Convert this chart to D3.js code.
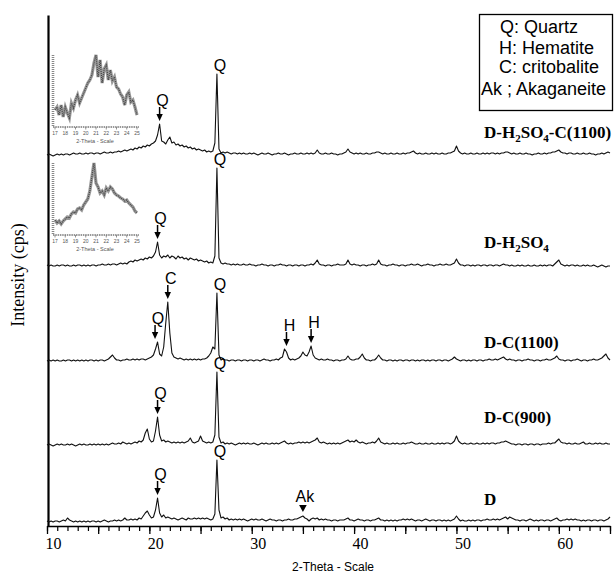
<!DOCTYPE html>
<html><head><meta charset="utf-8">
<script src="https://cdn.jsdelivr.net/npm/d3@7"></script>
<style>html,body{margin:0;padding:0;background:#fff;} svg{display:block;}</style>
</head><body>
<svg id="chart" width="616" height="573"></svg>
<script>
// ---------------- DATA ----------------
const thetaStart = 10, thetaStep = 0.2;          // 2-theta grid of the scans
const seriesNames = ["D", "D-C(900)", "D-C(1100)", "D-H2SO4", "D-H2SO4-C(1100)"];
const seriesOffsets = [4, 81, 165, 260, 371];     // stacking offsets (cps)

const intensityD = [
 1,0,1,0,1, 1,0,1,2,1, 4,2,1,0,1, 0,1,0,1,0, 1,0,1,1,0,
 1,0,1,2,1, 0,1,1,2,1, 2,1,2,4,2, 2,3,2,3,2, 4,3,6,9,11,
 7,4,5,12,24, 9,5,7,4,5, 4,3,4,3,2, 3,4,3,2,4, 3,3,4,3,4,
 3,4,3,4,3, 2,3,8,62,12, 4,5,3,4,2, 3,2,3,2,3, 2,3,2,1,2,
 3,2,3,2,2, 3,2,1,2,3, 2,2,1,2,2, 1,2,2,3,2, 2,3,3,4,5,
 6,4,3,1,3, 4,3,4,2,3, 2,3,2,2,1, 2,2,1,2,2, 2,3,4,2,2,
 1,2,3,2,2, 1,2,2,1,2, 2,3,4,2,2, 1,2,1,2,1, 2,1,2,2,3,
 2,3,2,3,2, 1,2,2,1,2, 3,2,1,2,2, 1,2,2,1,2, 1,2,1,2,3,
 6,3,1,2,1, 1,2,1,2,1, 2,2,1,2,2, 3,2,2,3,2, 3,2,3,4,5,
 3,5,4,3,2, 2,1,2,2,1, 2,3,2,1,2, 1,2,2,1,2, 2,1,2,3,4,
 2,1,2,2,3, 2,3,2,3,2, 2,1,2,1,2, 2,1,2,2,1, 2,2,1,2,3,
 5];
const intensityDC900 = [
 0,1,0,-1,0, 1,0,1,0,0, 1,0,1,0,-1, 0,1,0,1,0, 0,1,0,1,0,
 1,0,1,0,1, 0,1,2,1,1, 2,1,3,2,1, 2,1,2,3,2, 4,3,5,12,16,
 6,3,4,14,28, 10,4,5,3,4, 3,2,3,2,3, 2,3,2,3,4, 7,3,2,3,4,
 9,4,3,2,3, 2,3,10,73,8, 2,3,1,2,1, 2,1,0,1,2, 1,2,1,2,1,
 1,2,1,0,1, 2,1,2,1,1, 2,1,2,1,2, 3,4,2,1,2, 1,2,2,3,2,
 3,2,3,2,3, 4,5,7,3,2, 3,2,1,2,1, 2,1,2,1,2, 3,4,5,3,4,
 3,5,3,2,3, 2,1,2,2,3, 2,4,7,3,2, 1,2,1,1,2, 1,2,1,1,2,
 1,2,2,3,2, 1,1,2,1,1, 2,1,1,2,1, 1,2,1,2,1, 2,2,1,2,4,
 9,4,2,1,2, 1,1,2,1,1, 2,1,1,2,1, 2,1,2,2,1, 2,2,3,3,4,
 3,2,1,1,0, 1,1,0,1,1, 0,1,1,0,1, 1,0,1,1,1, 2,1,2,2,4,
 6,3,2,2,1, 2,1,1,2,1, 1,2,3,1,1, 2,1,1,2,1, 2,1,1,2,1,
 1];
const intensityDC1100 = [
 0,1,0,1,0, 1,0,0,1,0, 1,1,0,1,0, 1,0,1,0,1, 0,1,1,0,1,
 0,1,1,0,1, 2,4,6,3,1, 1,0,1,1,2, 1,1,2,1,2, 1,2,2,1,2,
 3,4,6,12,19, 7,5,14,38,59, 28,8,4,3,2, 3,2,1,2,1, 2,1,2,1,2,
 1,2,2,3,5, 8,14,12,68,6, 1,2,1,1,0, 1,1,0,1,1, 0,1,1,0,1,
 1,0,1,1,0, 1,2,1,1,0, 1,1,2,1,3, 4,12,9,3,1, 2,1,2,3,5,
 9,6,5,9,15, 6,3,2,1,2, 1,1,2,1,1, 0,1,1,0,1, 1,2,5,2,1,
 1,2,2,4,7, 3,1,1,0,1, 1,3,6,3,1, 1,0,1,1,0, 1,0,1,1,0,
 1,1,0,1,1, 0,1,0,1,1, 0,1,0,1,1, 0,1,1,0,1, 1,0,1,2,4,
 2,1,0,1,1, 0,1,0,1,1, 0,1,1,0,1, 1,2,1,1,2, 1,2,3,4,2,
 1,2,1,1,0, 1,1,0,1,1, 2,1,1,0,1, 1,0,1,1,2, 1,1,2,3,5,
 2,1,1,0,1, 1,0,1,1,2, 1,0,1,1,0, 1,1,2,1,1, 2,3,5,7,3,
 1];
const intensityDH2SO4 = [
 1,0,1,0,0, 1,0,1,1,0, 1,0,0,1,0, 1,1,0,1,0, 1,0,1,1,0,
 1,1,2,1,1, 2,1,2,2,1, 2,3,2,3,2, 4,5,4,6,5, 6,7,6,8,7,
 9,8,10,14,24, 11,8,10,9,11, 8,10,9,7,10, 8,9,7,8,6, 8,7,6,7,5,
 6,5,4,5,3, 4,3,10,98,8, 3,2,3,2,2, 1,2,1,2,1, 1,2,1,1,2,
 1,1,0,1,1, 2,1,1,0,1, 1,0,1,1,2, 1,1,0,1,1, 0,1,1,0,1,
 1,0,1,1,2, 1,3,6,2,1, 1,0,1,1,0, 1,1,2,1,1, 1,2,6,2,1,
 2,1,1,0,1, 1,0,1,1,2, 1,2,6,2,1, 1,0,1,1,2, 1,1,0,1,1,
 0,1,1,2,1, 1,2,1,0,1, 1,2,1,1,0, 1,1,2,1,1, 2,1,1,2,3,
 7,3,1,1,0, 1,1,0,1,0, 1,1,0,1,1, 0,1,1,0,1, 1,0,1,2,1,
 1,0,1,0,0, 1,0,1,0,0, 1,0,0,1,0, 0,1,0,1,0, 1,1,0,2,4,
 6,2,1,0,1, 0,1,1,0,1, 0,0,1,0,1, 0,0,1,0,-1, 0,1,0,-1,0,
 0];
const intensityDH2SO4C = [
 0,1,0,-1,0, 1,0,1,0,1, 1,0,1,2,1, 1,2,1,1,2, 1,2,2,1,2,
 2,1,2,3,2, 2,3,2,3,3, 4,3,4,5,4, 5,6,5,7,6, 8,7,9,8,10,
 9,11,12,14,20, 31,14,13,11,15, 18,12,13,10,11, 9,10,8,9,7, 8,6,7,5,6,
 5,4,5,3,4, 3,4,12,81,6, 2,3,2,3,2, 1,2,2,1,2, 1,2,1,1,2,
 1,2,1,0,1, 2,1,1,2,1, 0,1,1,2,1, 1,2,1,0,1, 1,2,1,1,2,
 1,1,2,1,2, 1,2,5,2,1, 1,2,1,1,2, 1,1,0,1,1, 2,3,6,3,2,
 1,2,1,2,1, 1,2,1,1,2, 2,3,3,2,1, 2,1,1,2,1, 1,2,1,1,2,
 1,2,2,3,4, 2,1,2,1,1, 2,1,1,2,1, 2,1,1,2,1, 1,2,2,3,4,
 9,4,2,1,2, 1,1,2,1,1, 2,1,1,2,1, 2,1,2,2,1, 2,1,2,2,3,
 3,2,1,2,1, 1,2,1,1,2, 1,1,0,1,1, 2,1,1,2,1, 2,2,3,3,4,
 5,3,2,2,1, 2,2,1,1,2, 1,1,2,1,1, 2,1,1,0,1, 1,2,1,2,3,
 2];
const seriesValues = [intensityD, intensityDC900, intensityDC1100, intensityDH2SO4, intensityDH2SO4C];

// insets (amorphous hump, 17-25 degrees)
const insetThetaStart = 17, insetThetaStep = 0.2;
const insetTickLabels = [17,18,19,20,21,22,23,24,25];
const insetTop = [17,20,12,22,10, 20,14,9,24,19, 27,32,24,29,34, 39,44,47,52,64, 72,50,67,44,58, 62,47,57,46,50, 40,38,33,30,22, 32,35,25,27,20, 12];
const insetBottom = [15,12,14,11,14, 16,18,17,21,23, 22,26,27,25,30, 33,36,44,58,72, 52,48,42,44,40, 47,44,48,46,42, 40,39,37,36,34, 35,32,30,28,24, 22];

// peak annotations: series index, 2-theta, label, kind
const annotations = [
 {s:4, t:26.6, label:"Q", kind:"top"},
 {s:4, t:21.0, label:"Q", kind:"arrow"},
 {s:3, t:26.6, label:"Q", kind:"top"},
 {s:3, t:20.8, label:"Q", kind:"arrow"},
 {s:2, t:26.6, label:"Q", kind:"top"},
 {s:2, t:21.8, label:"C", kind:"arrow"},
 {s:2, t:20.8, label:"Q", kind:"arrow", dx:-2.5},
 {s:2, t:33.2, label:"H", kind:"arrow", dx:2},
 {s:2, t:35.8, label:"H", kind:"arrow"},
 {s:1, t:26.6, label:"Q", kind:"top"},
 {s:1, t:20.8, label:"Q", kind:"arrow"},
 {s:0, t:26.6, label:"Q", kind:"top"},
 {s:0, t:20.8, label:"Q", kind:"arrow"},
 {s:0, t:35.0, label:"Ak", kind:"marker"}
];
const legendLines = ["Q: Quartz", "H: Hematite", "C: critobalite", "Ak ; Akaganeite"];
const xMajorTicks = [10,15,20,25,30,35,40,45,50,55,60,65];
const xLabelTicks = [10,20,30,40,50,60];

// ---------------- DRAW ----------------
const svg = d3.select("#chart");
const SANS = "'Liberation Sans', Arial, sans-serif";
const SERIF = "'Liberation Serif', 'Times New Roman', serif";
const x = d3.scaleLinear().domain([10, 65]).range([47, 610]);
const y = d3.scaleLinear().domain([0, 511]).range([526, 15]);

// axes
const xMinor = d3.axisBottom(x).tickValues(d3.range(10, 66, 1)).tickSize(5).tickSizeOuter(0).tickFormat("");
const gxm = svg.append("g").attr("transform", "translate(0,526)").call(xMinor);
gxm.select(".domain").attr("stroke", "#000").attr("stroke-width", 1.6);
gxm.selectAll(".tick line").attr("stroke", "#000").attr("stroke-width", 1.2);
const xMajor = d3.axisBottom(x).tickValues(xMajorTicks).tickSize(8).tickSizeOuter(0)
  .tickFormat(d => xLabelTicks.includes(d) ? d : "");
const gxM = svg.append("g").attr("transform", "translate(0,526)").call(xMajor);
gxM.select(".domain").remove();
gxM.selectAll(".tick line").attr("stroke", "#000").attr("stroke-width", 1.3);
gxM.selectAll(".tick text").attr("text-anchor", "start").attr("x", -2).attr("y", 23).attr("dy", 0)
  .attr("fill", "#000").style("font-family", SERIF).style("font-size", "16px");

const yAxis = d3.axisLeft(y).tickValues([]).tickSizeOuter(0);
const gy = svg.append("g").attr("transform", "translate(48,0)").call(yAxis);
gy.select(".domain").attr("stroke", "#000").attr("stroke-width", 2.2);

svg.append("text").attr("x", 333).attr("y", 571).attr("text-anchor", "middle")
  .style("font-family", SANS).style("font-size", "12px").text("2-Theta - Scale");
svg.append("text").attr("transform", "translate(24,275) rotate(-90)").attr("text-anchor", "middle")
  .style("font-family", SERIF).style("font-size", "18px").text("Intensity (cps)");

// traces
const line = d3.line()
  .x((d, i) => x(thetaStart + i * thetaStep));
seriesValues.forEach((vals, s) => {
  line.y(v => y(seriesOffsets[s] + v));
  svg.append("path").attr("d", line(vals)).attr("fill", "none")
    .attr("stroke", "#111").attr("stroke-width", 1.1).attr("stroke-linejoin", "round");
});

// series labels (with subscripts)
const labelDy = [-17, -22, -13, -18, -17];
seriesNames.forEach((name, s) => {
  const t = svg.append("text").attr("x", 484).attr("y", y(seriesOffsets[s]) + labelDy[s])
    .style("font-family", SERIF).style("font-size", "17px").style("font-weight", "bold");
  let segs = [], cur = "", prevLetter = false;
  for (const ch of name) {
    const isDigit = /\d/.test(ch);
    if (isDigit && prevLetter) { if (cur) segs.push([cur, false]); segs.push([ch, true]); cur = ""; }
    else cur += ch;
    prevLetter = /[A-Za-z]/.test(ch);
  }
  if (cur) segs.push([cur, false]);
  let shifted = false;
  segs.forEach(([txt, sub]) => {
    const ts = t.append("tspan").text(txt);
    if (sub) { ts.style("font-size", "11px").attr("dy", shifted ? 0 : 4); shifted = true; }
    else if (shifted) { ts.attr("dy", -4); shifted = false; }
  });
});

// annotations
function valueAt(s, t) { return seriesValues[s][Math.round((t - thetaStart) / thetaStep)]; }
annotations.forEach(a => {
  const px = x(a.t) + (a.dx || 0);
  const py = y(seriesOffsets[a.s] + valueAt(a.s, a.t));
  const g = svg.append("g");
  if (a.kind === "top") {
    g.append("text").attr("x", x(a.t) + 3).attr("y", py - 3).attr("text-anchor", "middle")
      .style("font-family", SANS).style("font-size", "16px").text(a.label);
  } else if (a.kind === "arrow") {
    const tip = py - 3;
    g.append("line").attr("x1", px).attr("x2", px).attr("y1", tip - 14).attr("y2", tip - 5)
      .attr("stroke", "#000").attr("stroke-width", 1.5);
    g.append("path").attr("d", `M${px-3.2},${tip-7}L${px+3.2},${tip-7}L${px},${tip}Z`).attr("fill", "#000");
    g.append("text").attr("x", px + 3).attr("y", tip - 15).attr("text-anchor", "middle")
      .style("font-family", SANS).style("font-size", "16px").text(a.label);
  } else {
    const tip = py - 4;
    g.append("path").attr("d", `M${px-3.8},${tip-7}L${px+3.8},${tip-7}L${px},${tip}Z`).attr("fill", "#000");
    g.append("text").attr("x", px + 2).attr("y", tip - 10).attr("text-anchor", "middle")
      .style("font-family", SANS).style("font-size", "16px").text(a.label);
  }
});

// insets
const ix = d3.scaleLinear().domain([17, 25]).range([55, 137]);
function drawInset(vals, bottom, top) {
  const iy = d3.scaleLinear().domain([0, 72]).range([bottom, top]);
  const g = svg.append("g");
  g.append("line").attr("x1", 53).attr("x2", 53).attr("y1", top).attr("y2", bottom)
    .attr("stroke", "#888").attr("stroke-width", 2.6).attr("stroke-dasharray", "1,1");
  g.append("line").attr("x1", 53).attr("x2", 139).attr("y1", bottom).attr("y2", bottom)
    .attr("stroke", "#777").attr("stroke-width", 1.4).attr("stroke-dasharray", "1.5,0.8");
  insetTickLabels.forEach(v => {
    g.append("line").attr("x1", ix(v)).attr("x2", ix(v)).attr("y1", bottom).attr("y2", bottom + 2.5)
      .attr("stroke", "#777").attr("stroke-width", 0.8);
    g.append("text").attr("x", ix(v)).attr("y", bottom + 7.5).attr("text-anchor", "middle")
      .style("font-family", SANS).style("font-size", "5px").attr("fill", "#555").text(v);
  });
  g.append("text").attr("x", 95).attr("y", bottom + 16).attr("text-anchor", "middle")
    .style("font-family", SANS).style("font-size", "5.5px").attr("fill", "#555").text("2-Theta - Scale");
  const l = d3.line().x((d, i) => ix(insetThetaStart + i * insetThetaStep)).y(v => iy(v));
  g.append("path").attr("d", l(vals)).attr("fill", "none").attr("stroke", "#999").attr("stroke-width", 3.2);
  g.append("path").attr("d", l(vals)).attr("fill", "none").attr("stroke", "#444")
    .attr("stroke-width", 1.2).attr("stroke-dasharray", "1,1");
}
drawInset(insetTop, 127, 55);
drawInset(insetBottom, 235, 163);

// legend box
svg.append("rect").attr("x", 479.5).attr("y", 14.5).attr("width", 133).attr("height", 96)
  .attr("fill", "#fff").attr("stroke", "#000").attr("stroke-width", 1.3);
const legendX = [500, 499, 499, 481], legendY = [33, 54, 73, 95];
legendLines.forEach((t, i) => {
  svg.append("text").attr("x", legendX[i]).attr("y", legendY[i])
    .style("font-family", SANS).style("font-size", "18px").text(t);
});
</script>
</body></html>
